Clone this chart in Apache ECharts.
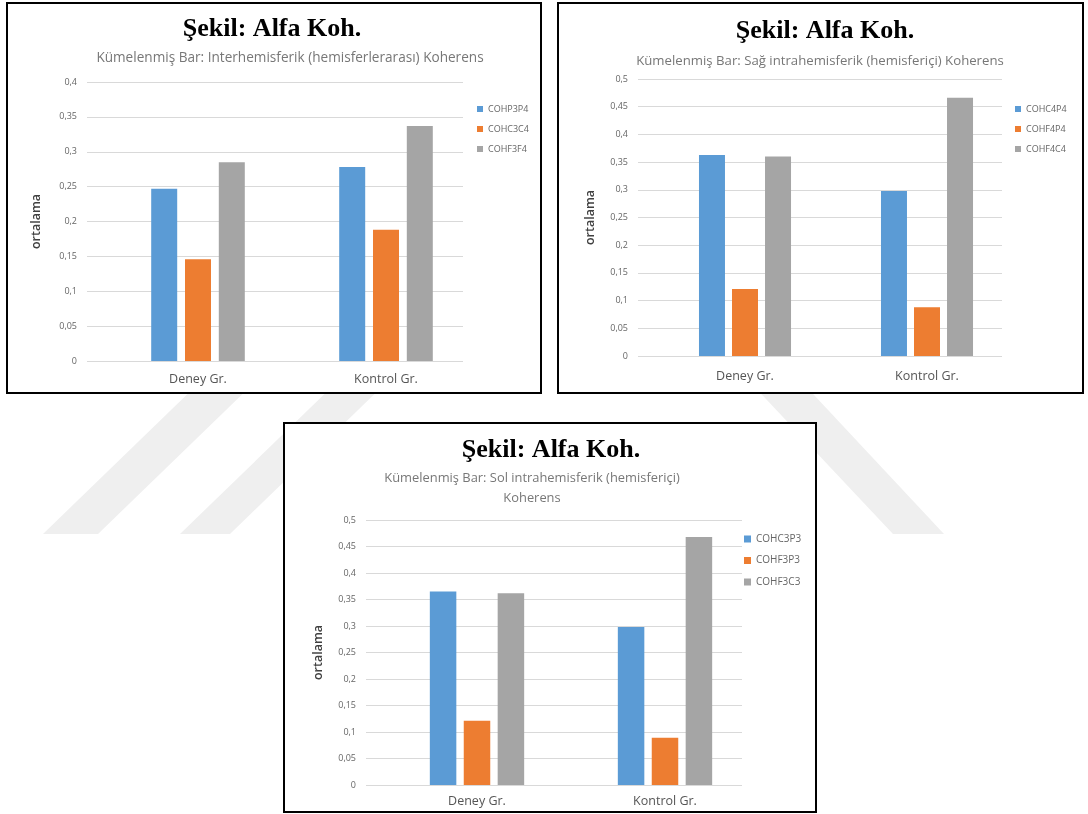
<!DOCTYPE html>
<html>
<head>
<meta charset="utf-8">
<title>Alfa Koherens</title>
<script src="https://cdn.jsdelivr.net/npm/echarts@6/dist/echarts.min.js"></script>
<style>
  html, body { margin: 0; padding: 0; background: #fff; }
  #page { position: relative; width: 1088px; height: 814px; overflow: hidden; background: #fff; }
  #wm { position: absolute; left: 0; top: 0; }
  .fill { position: absolute; background: #fff; }
  .frame { position: absolute; border: 2px solid #000; box-sizing: border-box; pointer-events: none; }
  #chart { position: absolute; left: 0; top: 0; width: 1088px; height: 814px; }
</style>
</head>
<body>
<div id="page">
  <!-- faint background mark behind the panels -->
  <svg id="wm" width="1088" height="814">
    <g fill="#efefef">
      <polygon points="43,534 98,534 257,380 202,380"/>
      <polygon points="180,534 230,534 389,380 339,380"/>
      <polygon points="893,534 944,534 800,380 748,380"/>
    </g>
  </svg>
  <div class="fill" style="left:6px;top:2px;width:536px;height:392px"></div>
  <div class="fill" style="left:557px;top:2px;width:527px;height:392px"></div>
  <div class="fill" style="left:283px;top:422px;width:534px;height:391px"></div>
  <div id="chart"></div>
  <div class="frame" style="left:6px;top:2px;width:536px;height:392px"></div>
  <div class="frame" style="left:557px;top:2px;width:527px;height:392px"></div>
  <div class="frame" style="left:283px;top:422px;width:534px;height:391px"></div>
</div>
<script>
// Groups on the x axis
const categories = ['Deney Gr.', 'Kontrol Gr.'];

// Interhemisferik koherens (ortalama)
const interNames = ['COHP3P4', 'COHC3C4', 'COHF3F4'];
const interP3P4 = [0.247, 0.278];
const interC3C4 = [0.146, 0.188];
const interF3F4 = [0.285, 0.337];

// Sağ intrahemisferik koherens (ortalama)
const rightNames = ['COHC4P4', 'COHF4P4', 'COHF4C4'];
const rightC4P4 = [0.363, 0.298];
const rightF4P4 = [0.121, 0.088];
const rightF4C4 = [0.360, 0.466];

// Sol intrahemisferik koherens (ortalama)
const leftNames = ['COHC3P3', 'COHF3P3', 'COHF3C3'];
const leftC3P3 = [0.365, 0.298];
const leftF3P3 = [0.121, 0.089];
const leftF3C3 = [0.362, 0.468];

// Axis settings
const yStep = 0.05;
const yMaxInter = 0.4;
const yMaxIntra = 0.5;
const yAxisName = 'ortalama';
const figureTitle = 'Şekil: Alfa Koh.';
const subInter = ['Kümelenmiş Bar: Interhemisferik (hemisferlerarası) Koherens'];
const subRight = ['Kümelenmiş Bar: Sağ intrahemisferik (hemisferiçi) Koherens'];
const subLeft = ['Kümelenmiş Bar: Sol intrahemisferik (hemisferiçi)', 'Koherens'];

const palette = ['#5b9bd5', '#ed7d31', '#a5a5a5'];
const uiFont = '"Open Sans", "Noto Sans", sans-serif';

// Panel layout: gridlines span one box, bars sit in a box shifted slightly right
const panels = [
  {
    names: interNames, values: [interP3P4, interC3C4, interF3F4], max: yMaxInter,
    top: 82, zero: 361, lineLeft: 87, lineW: 376, barLeft: 104, barBoxW: 376,
    barWidth: 26, barGap: '30%', nameGap: 44, labelFont: 9, catMargin: 12,
    legend: { left: 477, top: 104, size: 6, gap: 10, font: 9, lh: 10 },
    title: { x: 272, y: 29.5 }, sub: { x: 290, y: 58, size: 13.6, lines: subInter }
  },
  {
    names: rightNames, values: [rightC4P4, rightF4P4, rightF4C4], max: yMaxIntra,
    top: 79, zero: 356, lineLeft: 638, lineW: 364, barLeft: 654, barBoxW: 364,
    barWidth: 26, barGap: '27%', nameGap: 41, labelFont: 9, catMargin: 14,
    legend: { left: 1015, top: 104, size: 6, gap: 10, font: 9, lh: 10 },
    title: { x: 825, y: 31 }, sub: { x: 820, y: 61.5, size: 13.2, lines: subRight }
  },
  {
    names: leftNames, values: [leftC3P3, leftF3P3, leftF3C3], max: yMaxIntra,
    top: 520, zero: 785, lineLeft: 366, lineW: 376, barLeft: 383, barBoxW: 376,
    barWidth: 26.5, barGap: '28%', nameGap: 41, labelFont: 9, catMargin: 10,
    legend: { left: 744, top: 533.5, size: 7, gap: 10.5, font: 10, lh: 11 },
    title: { x: 551, y: 450 }, sub: { x: 532, y: 478.5, size: 12.9, lines: subLeft }
  }
];

const fmt = v => String(+v.toFixed(2)).replace('.', ',');

const option = {
  animation: false,
  backgroundColor: 'transparent',
  grid: [], xAxis: [], yAxis: [], series: [], legend: [],
  graphic: { elements: [] }
};

panels.forEach((p, i) => {
  const a = 2 * i, b = 2 * i + 1;
  const h = p.zero - p.top;
  option.grid.push({ left: p.lineLeft, top: p.top, width: p.lineW, height: h, outerBoundsMode: 'none' });
  option.grid.push({ left: p.barLeft, top: p.top, width: p.barBoxW, height: h, outerBoundsMode: 'none' });

  option.xAxis.push({ type: 'category', gridIndex: a, data: categories, show: false });
  option.xAxis.push({
    type: 'category', gridIndex: b, data: categories,
    axisLine: { show: false }, axisTick: { show: false },
    axisLabel: { fontFamily: uiFont, fontSize: 12.5, color: '#555', margin: p.catMargin }
  });

  option.yAxis.push({
    type: 'value', gridIndex: a, min: 0, max: p.max, interval: yStep,
    name: yAxisName, nameLocation: 'middle', nameGap: p.nameGap,
    nameTextStyle: { fontFamily: uiFont, fontSize: 12.5, fontWeight: 600, color: '#404040' },
    axisLine: { show: false }, axisTick: { show: false },
    axisLabel: { formatter: fmt, fontFamily: uiFont, fontSize: p.labelFont, color: '#666', margin: 10 },
    splitLine: { lineStyle: { color: '#d9d9d9', width: 1 } }
  });
  option.yAxis.push({ type: 'value', gridIndex: b, min: 0, max: p.max, interval: yStep, show: false, splitLine: { show: false } });

  p.names.forEach((name, k) => {
    option.series.push({
      type: 'bar', name, xAxisIndex: b, yAxisIndex: b,
      data: p.values[k], barWidth: p.barWidth, barGap: p.barGap,
      itemStyle: { color: palette[k] }
    });
  });

  option.legend.push({
    data: p.names, orient: 'vertical', left: p.legend.left, top: p.legend.top,
    padding: 0, icon: 'rect', itemWidth: p.legend.size, itemHeight: p.legend.size,
    itemGap: p.legend.gap, selectedMode: false,
    textStyle: { fontFamily: uiFont, fontSize: p.legend.font, lineHeight: p.legend.lh, color: '#666' }
  });

  option.graphic.elements.push({
    type: 'text', x: p.title.x, y: p.title.y,
    style: { text: figureTitle, font: 'bold 26px "Liberation Serif", "Times New Roman", serif',
             fill: '#000', textAlign: 'center', textVerticalAlign: 'middle' }
  });
  p.sub.lines.forEach((line, j) => {
    option.graphic.elements.push({
      type: 'text', x: p.sub.x, y: p.sub.y + j * 19.5,
      style: { text: line, font: p.sub.size + 'px ' + uiFont, fill: '#777',
               textAlign: 'center', textVerticalAlign: 'middle' }
    });
  });
});

const chart = echarts.init(document.getElementById('chart'), null, { renderer: 'canvas' });
chart.setOption(option);
</script>
</body>
</html>
